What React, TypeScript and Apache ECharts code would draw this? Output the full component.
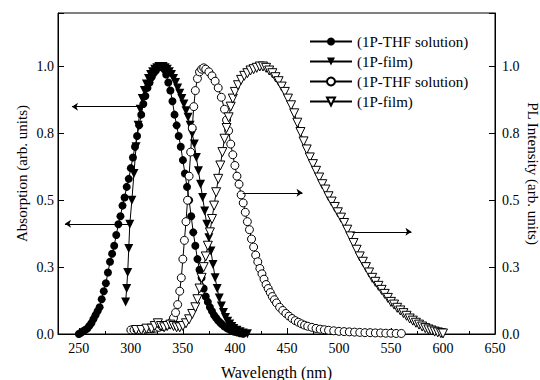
import React, { useEffect, useRef } from 'react';
import * as echarts from 'echarts';

// Absorption, 1P in THF solution (filled circles) [wavelength nm, intensity]
const absSolution: [number, number][] = [
  [250, 0.0], [252, 0.005], [254, 0.01], [256, 0.015], [258, 0.02], [260, 0.03], [262, 0.04], [264, 0.055],
  [266, 0.07], [268, 0.085], [270, 0.1], [272, 0.13], [274, 0.16], [276, 0.19], [278, 0.23], [280, 0.27],
  [282, 0.3], [284, 0.33], [286, 0.37], [288, 0.41], [290, 0.44], [292, 0.48], [294, 0.51], [296, 0.55],
  [298, 0.58], [300, 0.62], [302, 0.66], [304, 0.7], [306, 0.74], [308, 0.78], [310, 0.82], [312, 0.86],
  [314, 0.89], [316, 0.92], [318, 0.94], [320, 0.96], [322, 0.975], [324, 0.985], [326, 0.995], [328, 1.0],
  [330, 1.0], [332, 0.99], [334, 0.97], [336, 0.94], [338, 0.91], [340, 0.87], [342, 0.82], [344, 0.78],
  [346, 0.74], [348, 0.7], [350, 0.65], [352, 0.6], [354, 0.55], [356, 0.5], [358, 0.44], [360, 0.38],
  [362, 0.33], [364, 0.28], [366, 0.24], [368, 0.21], [370, 0.17], [372, 0.14], [374, 0.12], [376, 0.1],
  [378, 0.085], [380, 0.07], [382, 0.06], [384, 0.05], [386, 0.042], [388, 0.035], [390, 0.028], [393, 0.02],
  [396, 0.014], [399, 0.009], [402, 0.006], [405, 0.003], [408, 0.001],
];

// Absorption, 1P film (filled down-triangles)
const absFilm: [number, number][] = [
  [295, 0.12], [296, 0.17], [297, 0.23], [298, 0.32], [299, 0.41], [301, 0.5], [303, 0.6], [305, 0.7],
  [307, 0.78], [309, 0.84], [311, 0.88], [313, 0.91], [315, 0.935], [317, 0.955], [319, 0.97], [321, 0.98],
  [323, 0.99], [325, 0.995], [327, 1.0], [329, 1.0], [331, 1.0], [333, 0.995], [335, 0.99], [337, 0.98],
  [339, 0.97], [341, 0.955], [343, 0.94], [345, 0.92], [347, 0.9], [349, 0.88], [351, 0.86], [353, 0.835],
  [355, 0.81], [357, 0.78], [359, 0.75], [361, 0.71], [363, 0.66], [365, 0.61], [367, 0.56], [369, 0.51],
  [371, 0.46], [373, 0.41], [375, 0.36], [377, 0.31], [379, 0.26], [381, 0.21], [383, 0.17], [385, 0.135],
  [387, 0.105], [389, 0.08], [391, 0.062], [393, 0.048], [395, 0.037], [397, 0.028], [399, 0.021], [402, 0.014],
  [405, 0.008], [408, 0.004], [412, 0.001],
];

// PL, 1P in THF solution (open circles)
const plSolution: [number, number][] = [
  [300, 0.015], [303, 0.015], [306, 0.015], [309, 0.015], [312, 0.015], [315, 0.018], [318, 0.02], [321, 0.02],
  [324, 0.022], [327, 0.025], [330, 0.028], [333, 0.03], [336, 0.035], [339, 0.045], [341, 0.06], [343, 0.08],
  [345, 0.11], [347, 0.16], [348.5, 0.21], [350, 0.28], [351.5, 0.35], [353, 0.42], [354.5, 0.5], [356, 0.59],
  [357.5, 0.68], [359, 0.77], [360.5, 0.85], [362, 0.91], [364, 0.955], [366, 0.98], [368, 0.99], [370, 0.995],
  [372, 0.99], [375, 0.98], [378, 0.965], [381, 0.945], [384, 0.92], [387, 0.885], [390, 0.84], [392, 0.8],
  [394, 0.76], [396, 0.71], [398, 0.67], [400, 0.63], [402, 0.59], [404, 0.56], [406, 0.52], [408, 0.49],
  [410, 0.455], [412, 0.42], [414, 0.39], [416, 0.355], [418, 0.325], [420, 0.295], [422, 0.27], [424, 0.245],
  [426, 0.225], [428, 0.205], [430, 0.185], [432, 0.17], [434, 0.155], [436, 0.14], [438, 0.128], [440, 0.116],
  [443, 0.1], [446, 0.088], [449, 0.077], [452, 0.067], [455, 0.058], [458, 0.05], [461, 0.044], [464, 0.038],
  [467, 0.033], [470, 0.029], [474, 0.025], [478, 0.021], [482, 0.018], [486, 0.016], [490, 0.014], [495, 0.012],
  [500, 0.01], [505, 0.009], [510, 0.008], [515, 0.007], [520, 0.006], [525, 0.005], [530, 0.005], [535, 0.004],
  [540, 0.004], [545, 0.003], [550, 0.003], [555, 0.002], [560, 0.002],
];

// PL, 1P film (open down-triangles)
const plFilm: [number, number][] = [
  [305, 0.015], [310, 0.015], [315, 0.02], [320, 0.02], [323, 0.03], [326, 0.04], [329, 0.03], [332, 0.025],
  [335, 0.03], [338, 0.035], [341, 0.03], [344, 0.025], [347, 0.025], [350, 0.03], [353, 0.04], [356, 0.055],
  [359, 0.075], [362, 0.1], [364, 0.13], [366, 0.17], [368, 0.21], [370, 0.25], [372, 0.29], [374, 0.33],
  [376, 0.38], [378, 0.43], [380, 0.48], [382, 0.53], [384, 0.58], [386, 0.63], [388, 0.68], [390, 0.73],
  [392, 0.77], [394, 0.81], [396, 0.85], [398, 0.88], [400, 0.905], [403, 0.93], [406, 0.95], [409, 0.965],
  [412, 0.975], [415, 0.985], [418, 0.99], [421, 0.995], [424, 1.0], [427, 1.0], [430, 0.995], [433, 0.985],
  [436, 0.975], [439, 0.96], [442, 0.945], [445, 0.925], [448, 0.905], [451, 0.88], [454, 0.855], [457, 0.825],
  [460, 0.79], [463, 0.755], [466, 0.72], [469, 0.69], [472, 0.66], [475, 0.635], [478, 0.61], [481, 0.585],
  [484, 0.56], [487, 0.54], [490, 0.515], [493, 0.495], [496, 0.475], [499, 0.455], [502, 0.435], [505, 0.415],
  [508, 0.39], [511, 0.365], [514, 0.34], [517, 0.315], [520, 0.29], [523, 0.27], [526, 0.25], [529, 0.23],
  [532, 0.21], [535, 0.195], [538, 0.18], [541, 0.165], [544, 0.15], [547, 0.135], [550, 0.12], [553, 0.11],
  [556, 0.098], [559, 0.088], [562, 0.078], [565, 0.068], [568, 0.058], [571, 0.05], [574, 0.042], [577, 0.035],
  [580, 0.028], [583, 0.022], [586, 0.017], [589, 0.013], [592, 0.009], [595, 0.006], [598, 0.003], [600, 0.002],
];

// Axis ticks
const xMajorTicks = [250, 300, 350, 400, 450, 500, 550, 600, 650];
const xMinorTicks = [275, 325, 375, 425, 475, 525, 575, 625];

// Arrows: [from wavelength, to wavelength, level]
const absArrows: [number, number, number][] = [
  [306.8, 243.4, 0.85],
  [301, 236.7, 0.412],
];
const plArrows: [number, number, number][] = [
  [407.5, 465, 0.528],
  [513, 569.7, 0.382],
];

const seriesNames = ['(1P-THF solution)', '(1P-film)', '(1P-THF solution) ', '(1P-film) '];

const FONT = '"Liberation Serif", "Times New Roman", serif';

const arrowMarkLine = (arrows: [number, number, number][]) => ({
  silent: true,
  symbol: ['none', 'arrow'],
  symbolSize: 6,
  label: { show: false },
  emphasis: { disabled: true },
  lineStyle: { color: '#000', width: 1, type: 'solid' },
  data: arrows.map(([from, to, y]) => [{ coord: [from, y] }, { coord: [to, y] }]),
});

export default function App() {
  const ref = useRef<HTMLDivElement>(null);

  useEffect(() => {
    if (!ref.current) return;
    const chart = echarts.init(ref.current, undefined, { renderer: 'svg' });

    const yAxisBase = (position: 'left' | 'right', name: string) => ({
      type: 'value',
      position,
      min: 0,
      max: 1.2,
      interval: 0.25,
      name,
      nameLocation: 'middle',
      nameGap: position === 'left' ? 29 : 30,
      nameRotate: position === 'left' ? 90 : -90,
      nameMoveOverlap: false,
      nameTextStyle: { fontFamily: FONT, fontSize: 15, color: '#000' },
      axisLine: { show: true, onZero: false, lineStyle: { color: '#000', width: 1 } },
      axisTick: { show: true, inside: true, length: 6, lineStyle: { color: '#000' } },
      axisLabel: {
        fontFamily: FONT,
        fontSize: 14,
        color: '#000',
        margin: position === 'left' ? 4 : 7,
        formatter: (v: number) => (v > 1.01 ? '' : v.toFixed(1)),
      },
      splitLine: { show: false },
    });

    const xBase = {
      type: 'value',
      min: 230,
      max: 650,
      position: 'bottom',
      splitLine: { show: false },
    };

    chart.setOption({
      animation: false,
      backgroundColor: '#fff',
      grid: {
        left: 58,
        right: 45,
        top: 13,
        bottom: 46,
        show: true,
        borderColor: '#000',
        borderWidth: 1,
        containLabel: false,
        outerBoundsMode: 'none',
      },
      legend: {
        orient: 'vertical',
        left: 304,
        top: 29,
        itemWidth: 42,
        itemHeight: 10,
        itemGap: 5,
        data: seriesNames,
        formatter: (n: string) => n.trim(),
        textStyle: { fontFamily: FONT, fontSize: 15, color: '#000' },
      },
      xAxis: [
        {
          ...xBase,
          name: 'Wavelength (nm)',
          nameLocation: 'middle',
          nameGap: 30,
          nameMoveOverlap: false,
          nameTextStyle: { fontFamily: FONT, fontSize: 16, color: '#000' },
          axisLine: { onZero: false, lineStyle: { color: '#000', width: 1 } },
          axisTick: { inside: true, length: 6, customValues: xMajorTicks, lineStyle: { color: '#000' } },
          axisLabel: {
            fontFamily: FONT,
            fontSize: 14,
            color: '#000',
            margin: 7,
            customValues: xMajorTicks,
            formatter: (v: number) => String(v),
          },
        },
        {
          ...xBase,
          axisLine: { show: false, onZero: false },
          axisTick: { inside: true, length: 3, customValues: xMinorTicks, lineStyle: { color: '#000' } },
          axisLabel: { show: false },
        },
      ],
      yAxis: [
        yAxisBase('left', 'Absorption (arb. units)'),
        yAxisBase('right', 'PL Intensity (arb. units)'),
      ],
      series: [
        {
          name: seriesNames[0],
          type: 'line',
          yAxisIndex: 0,
          data: absSolution,
          symbol: 'circle',
          symbolSize: 8,
          itemStyle: { color: '#000' },
          lineStyle: { color: '#000', width: 1 },
          markLine: arrowMarkLine(absArrows),
        },
        {
          name: seriesNames[1],
          type: 'line',
          yAxisIndex: 0,
          data: absFilm,
          symbol: 'triangle',
          symbolRotate: 180,
          symbolSize: 9,
          itemStyle: { color: '#000' },
          lineStyle: { color: '#000', width: 1 },
        },
        {
          name: seriesNames[2],
          type: 'line',
          yAxisIndex: 1,
          data: plSolution,
          symbol: 'circle',
          symbolSize: 8,
          itemStyle: { color: '#fff', borderColor: '#000', borderWidth: 1 },
          lineStyle: { color: '#000', width: 1 },
          markLine: arrowMarkLine(plArrows),
        },
        {
          name: seriesNames[3],
          type: 'line',
          yAxisIndex: 1,
          data: plFilm,
          symbol: 'triangle',
          symbolRotate: 180,
          symbolSize: 9,
          itemStyle: { color: '#fff', borderColor: '#000', borderWidth: 1 },
          lineStyle: { color: '#000', width: 1 },
        },
      ],
    });

    return () => chart.dispose();
  }, []);

  return (
    <div
      ref={ref}
      style={{ position: 'fixed', left: 0, top: 0, width: 540, height: 380, background: '#fff' }}
    />
  );
}
